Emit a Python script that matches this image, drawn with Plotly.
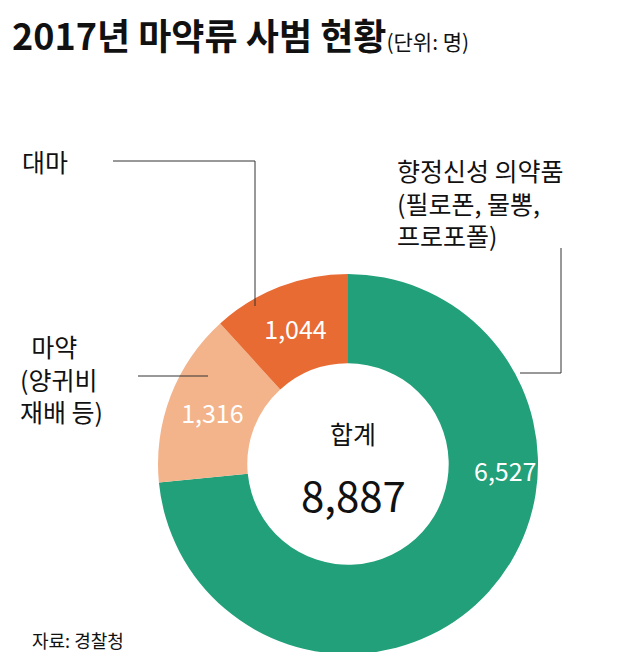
import plotly.graph_objects as go

categories = ["향정신성 의약품", "마약", "대마"]
values = [6527, 1316, 1044]
colors = ["#21a07a", "#f3b48b", "#e86b33"]
total = sum(values)

W, H = 640, 652
def px(x): return x / W
def py(y): return 1 - y / H

fig = go.Figure(go.Pie(
    labels=categories, values=values, sort=False, direction="clockwise", rotation=0,
    hole=0.53, marker=dict(colors=colors),
    text=["", f"{values[1]:,}", f"{values[2]:,}"], texttemplate="%{text}",
    textposition="inside", insidetextorientation="horizontal",
    textfont=dict(color="white", size=25, family="Noto Sans CJK KR"),
    domain=dict(x=[px(150), px(530)], y=[py(650), py(262)]),
    showlegend=False, hoverinfo="skip"))

F = "Noto Sans CJK KR"
ann = [
    dict(x=px(2), y=py(26), text="<b>2017년 마약류 사범 현황</b><span style='font-size:21px'>(단위: 명)</span>",
         size=36, xanchor="left", color="#111"),
    dict(x=px(12), y=py(153), text="대마", size=25, xanchor="left", color="#111"),
    dict(x=px(387), y=py(195), text="향정신성 의약품<br>(필로폰, 물뽕,<br>프로포폴)", size=25, xanchor="left", color="#111"),
    dict(x=px(10), y=py(370), text="  마약<br>(양귀비<br>재배 등)", size=25, xanchor="left", color="#111"),
    dict(x=px(345), y=py(425), text="합계", size=25, xanchor="center", color="#111"),
    dict(x=px(345), y=py(485), text=f"{total:,}", size=42, xanchor="center", color="#111"),
    dict(x=px(497), y=py(462), text=f"{values[0]:,}", size=25, xanchor="center", color="white"),
    dict(x=px(22), y=py(632), text="자료: 경찰청", size=18, xanchor="left", color="#111"),
]
annotations = [dict(xref="paper", yref="paper", x=a["x"], y=a["y"], text=a["text"], showarrow=False,
                    xanchor=a["xanchor"], yanchor="middle", align="left",
                    font=dict(family=F, size=a["size"], color=a["color"])) for a in ann]

lines = [
    [(105, 153), (247, 153), (247, 298)],
    [(553, 240), (553, 365), (512, 365)],
    [(130, 368), (200, 368)],
]
shapes = []
for pts in lines:
    for (x0, y0), (x1, y1) in zip(pts[:-1], pts[1:]):
        shapes.append(dict(type="line", xref="paper", yref="paper", x0=px(x0), y0=py(y0),
                           x1=px(x1), y1=py(y1), line=dict(color="#333", width=1)))

fig.update_layout(width=W, height=H, margin=dict(l=0, r=0, t=0, b=0),
                  paper_bgcolor="white", annotations=annotations, shapes=shapes)
fig.write_html("out.html")
